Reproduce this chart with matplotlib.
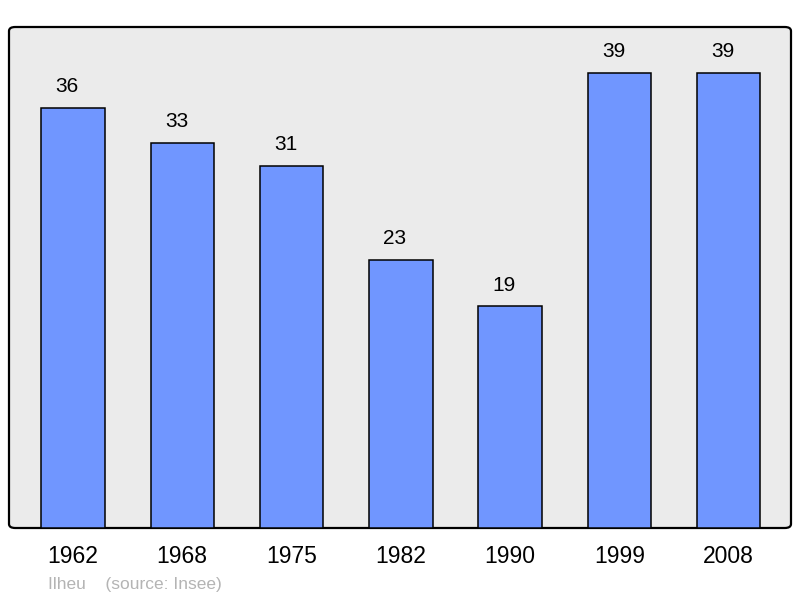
import matplotlib
matplotlib.use("Agg")
import matplotlib.pyplot as plt
from matplotlib.patches import FancyBboxPatch

years = ["1962", "1968", "1975", "1982", "1990", "1999", "2008"]
population = [36, 33, 31, 23, 19, 39, 39]
commune = "Ilheu"
source = "(source: Insee)"

plt.rcParams['font.family'] = ['Liberation Sans', 'DejaVu Sans']

fig = plt.figure(figsize=(8, 5.98), dpi=100)
ax = fig.add_axes([9/800, 70/598, 782/800, 501/598])
ax.set_facecolor('none')
for s in ax.spines.values():
    s.set_visible(False)

frame = FancyBboxPatch((0, 0), 1, 1, boxstyle="round,pad=0,rounding_size=0.008",
                       transform=ax.transAxes, facecolor='#ebebeb', edgecolor='black',
                       linewidth=1.6, clip_on=False, zorder=0)
ax.add_patch(frame)

xs = list(range(len(years)))
ax.bar(xs, population, width=0.58, color='#7096ff', edgecolor='black', linewidth=1.1, zorder=2)

for x, v in zip(xs, population):
    ax.annotate(str(v), xy=(x, v), xytext=(-4.2, 15.3), textcoords='offset points',
                ha='center', va='center', fontsize=15, color='black')
    ax.annotate(years[x], xy=(x, 0), xytext=(0, -20.6), textcoords='offset points',
                ha='center', va='center', fontsize=16.5, color='black', annotation_clip=False)

ax.set_xlim(-0.585, 6.57)
ax.set_ylim(0, 42.93)
ax.set_xticks([])
ax.set_yticks([])

fig.text(48/800, 1 - 584/598, commune + "    " + source, ha='left', va='center',
         fontsize=12.5, color='#b4b4b4')

fig.savefig('out.png', dpi=100)
